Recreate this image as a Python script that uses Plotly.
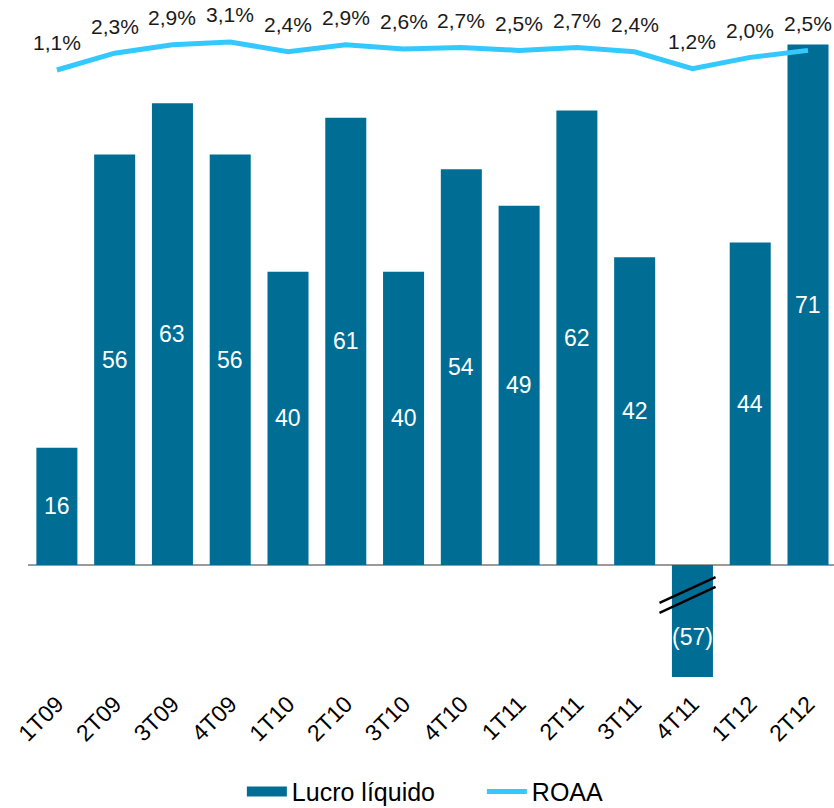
import plotly.graph_objects as go

categories = ["1T09", "2T09", "3T09", "4T09", "1T10", "2T10", "3T10", "4T10",
              "1T11", "2T11", "3T11", "4T11", "1T12", "2T12"]
lucro = [16, 56, 63, 56, 40, 61, 40, 54, 49, 62, 42, -57, 44, 71]
roaa = [1.1, 2.3, 2.9, 3.1, 2.4, 2.9, 2.6, 2.7, 2.5, 2.7, 2.4, 1.2, 2.0, 2.5]

BAR_COLOR = "#006e94"
LINE_COLOR = "#33c9ff"
FONT = "Liberation Sans, Arial, sans-serif"

y_lo, y_hi = -15.28, 74.35
y2_lo, y2_hi = -42.26, 4.67

fig = go.Figure()
fig.add_trace(go.Bar(x=categories, y=lucro, name="Lucro líquido",
                     marker=dict(color=BAR_COLOR, line=dict(width=0)),
                     yaxis="y", showlegend=False))
# legend entry for the bars drawn as a wide block (no data drawn)
fig.add_trace(go.Scatter(x=[categories[0]], y=[None], name="Lucro líquido", mode="lines",
                         line=dict(color=BAR_COLOR, width=14), yaxis="y",
                         hoverinfo="skip"))
fig.add_trace(go.Scatter(x=categories, y=roaa, name="ROAA", mode="lines",
                         line=dict(color=LINE_COLOR, width=5),
                         yaxis="y2"))

annotations = []
for c, v in zip(categories, lucro):
    if v >= 0:
        txt, ypos = str(v), v / 2
    else:
        txt, ypos = f"({abs(v)})", y_lo * 0.64
    annotations.append(dict(x=c, y=ypos, xref="x", yref="y", text=txt,
                            showarrow=False, font=dict(color="white", size=23, family=FONT)))
for c, v in zip(categories, roaa):
    annotations.append(dict(x=c, y=v, xref="x", yref="y2",
                            text=f"{v:.1f}%".replace(".", ","), yshift=27,
                            showarrow=False, font=dict(color="#1a1a1a", size=21, family=FONT)))

# axis-break marks on the truncated negative bar
neg_idx = lucro.index(min(lucro))
shapes = []
for off in (0.0, -1.36):
    shapes.append(dict(type="line", xref="x", yref="y",
                       x0=neg_idx - 0.57, y0=-5.18 + off,
                       x1=neg_idx + 0.40, y1=-1.64 + off,
                       line=dict(color="black", width=2.5)))

fig.update_layout(
    width=834, height=808,
    margin=dict(l=28, r=0, t=20, b=131, autoexpand=False),
    plot_bgcolor="white", paper_bgcolor="white",
    bargap=0.29,
    showlegend=True,
    legend=dict(orientation="h", x=0.29, xanchor="left", xref="container",
                y=0.02, yanchor="middle", yref="container",
                font=dict(size=25, family=FONT, color="black"),
                traceorder="normal", itemwidth=40,
                entrywidthmode="pixels", entrywidth=185),
    font=dict(family=FONT, size=20, color="black"),
    xaxis=dict(range=[-0.5, 13.45], tickangle=-45, showgrid=False, showline=False,
               ticks="", ticklabelstandoff=8,
               tickfont=dict(size=23, family=FONT, color="black")),
    yaxis=dict(range=[y_lo, y_hi], visible=True, showgrid=False, showticklabels=False,
               zeroline=True, zerolinecolor="#9a9a9a", zerolinewidth=2, showline=False),
    yaxis2=dict(range=[y2_lo, y2_hi], overlaying="y", side="right", visible=False),
    annotations=annotations,
    shapes=shapes,
)

fig.write_html("out.html", config={"displayModeBar": False})

with open("out.html", "r", encoding="utf-8") as f:
    html = f.read()
html = html.replace("<head>", "<head><style>html,body{margin:0;padding:0;overflow:hidden}</style>", 1)
with open("out.html", "w", encoding="utf-8") as f:
    f.write(html)
